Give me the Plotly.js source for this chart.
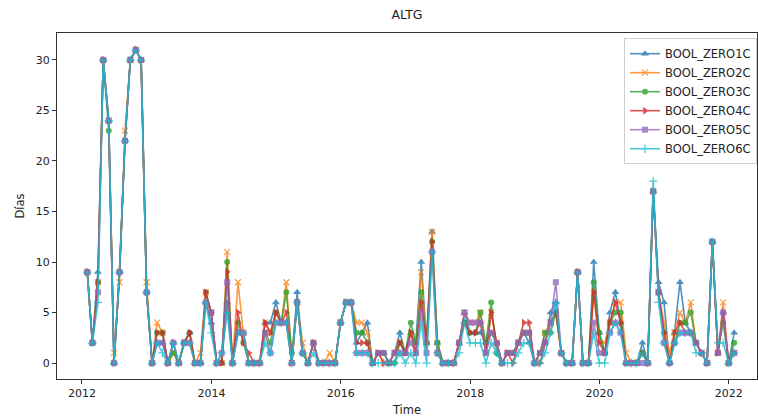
<!DOCTYPE html>
<html>
<head>
<meta charset="utf-8">
<script src="https://cdn.plot.ly/plotly-3.0.1.min.js"></script>
<style>
  html, body { margin: 0; padding: 0; background: #ffffff; }
  #chart { width: 758px; height: 417px; }
</style>
</head>
<body>
<div id="chart"></div>
<script>
// Monthly series (month-end), January 2012 to January 2022
const startYear = 2012;
const startMonth = 1;
const monthCount = 121;

const seriesNames = ['BOOL_ZERO1C', 'BOOL_ZERO2C', 'BOOL_ZERO3C', 'BOOL_ZERO4C', 'BOOL_ZERO5C', 'BOOL_ZERO6C'];

const zero1C = [9,2,9,30,24,0,9,22,30,31,30,7, 0,2,2,0,2,0,2,3,0,0,6,4,
  0,0,6,0,3,3,0,0,0,4,4,6, 4,4,0,7,1,0,2,0,0,0,0,4,
  6,6,2,3,4,0,1,1,0,1,3,1, 3,2,10,2,13,2,0,0,0,2,5,3,
  3,3,2,3,2,0,1,1,2,3,2,0, 1,2,5,6,1,0,0,9,0,0,10,3,
  1,5,7,4,0,0,0,2,0,17,8,6, 0,3,8,4,3,2,1,0,12,1,5,0, 3];

const zero2C = [9,2,8,30,24,1,8,23,30,31,30,8, 0,4,3,0,1,0,2,2,0,1,7,5,
  0,0,11,0,8,3,0,0,0,4,3,5, 4,8,0,6,2,0,2,0,0,1,0,4,
  6,6,4,4,3,0,1,0,0,1,2,1, 3,1,9,2,13,2,0,0,0,2,5,4,
  4,5,1,5,2,0,1,1,2,3,3,0, 1,3,4,5,1,0,0,9,0,0,7,2,
  2,4,6,6,1,0,0,1,0,17,7,4, 1,3,5,4,6,2,1,0,12,1,6,0, 1];

const zero3C = [9,2,8,30,23,0,9,22,30,31,30,7, 0,3,3,0,1,0,2,3,0,0,7,5,
  0,0,10,0,4,2,0,0,0,3,2,5, 4,7,1,6,1,0,2,0,0,0,0,4,
  6,6,3,3,2,0,1,1,0,0,2,1, 4,2,7,2,12,2,0,0,0,2,4,3,
  3,5,2,6,1,0,1,1,2,3,3,0, 1,3,3,5,1,0,0,9,0,0,8,3,
  1,4,5,5,0,0,0,1,0,17,7,3, 0,2,4,4,5,2,1,0,12,1,4,0, 2];

const zero4C = [9,2,8,30,24,0,9,22,30,31,30,7, 0,3,3,0,2,0,2,3,0,0,7,5,
  0,0,9,0,5,2,1,0,0,4,3,5, 4,5,0,6,1,0,2,0,0,0,0,4,
  6,6,2,2,2,0,1,0,0,1,2,1, 3,1,6,2,12,1,0,0,0,2,4,3,
  3,4,1,5,2,0,1,0,2,4,4,0, 0,2,4,5,1,0,0,9,0,0,7,2,
  1,4,6,4,0,0,0,1,0,17,7,3, 0,3,4,3,3,2,1,0,12,1,5,0, 1];

const zero5C = [9,2,7,30,24,0,9,22,30,31,30,7, 0,2,2,0,2,0,2,2,0,0,6,5,
  0,1,8,0,3,3,0,0,0,3,1,4, 4,4,0,6,1,0,2,0,0,0,0,4,
  6,6,1,1,1,0,1,1,0,1,1,1, 2,1,5,1,11,1,0,0,0,2,5,4,
  4,4,1,3,2,0,1,1,2,3,3,0, 1,2,4,8,1,0,0,9,0,0,4,1,
  1,3,4,3,0,0,0,0,0,17,7,2, 0,2,3,3,3,2,1,0,12,1,5,0, 1];

const zero6C = [9,2,6,30,24,0,9,22,30,31,30,7, 0,2,1,0,2,0,2,2,0,0,6,3,
  0,1,5,0,3,3,0,0,0,2,1,4, 4,4,0,6,1,0,1,0,0,0,0,4,
  6,6,1,1,1,0,0,0,0,0,1,0, 1,0,4,0,11,1,0,0,0,1,4,2,
  2,2,0,2,1,0,0,0,1,2,2,0, 0,1,3,6,1,0,0,9,0,0,3,0,
  0,3,4,3,0,0,0,1,0,18,6,2, 0,2,3,3,3,1,1,0,12,2,2,0, 1];

const seriesValues = [zero1C, zero2C, zero3C, zero4C, zero5C, zero6C];

const seriesColors = ['#1f77b4', '#ff7f0e', '#2ca02c', '#d62728', '#9467bd', '#17becf'];
const seriesSymbols = ['triangle-up', 'x-thin', 'circle', 'triangle-right', 'square', 'cross-thin'];
const symbolSizes = [7, 6, 6, 7, 6, 6];

const tickYears = ['2012', '2014', '2016', '2018', '2020', '2022'];

// month-end date strings for the time index
function monthEnds(y0, m0, n) {
  const out = [];
  for (let k = 0; k < n; k++) {
    const m = m0 - 1 + k;
    const y = y0 + Math.floor(m / 12);
    const mm = (m % 12) + 1;
    const last = new Date(Date.UTC(y, mm, 0)).getUTCDate();
    out.push(y + '-' + String(mm).padStart(2, '0') + '-' + String(last).padStart(2, '0'));
  }
  return out;
}
const dates = monthEnds(startYear, startMonth, monthCount);

const font = 'DejaVu Sans, sans-serif';

const traces = seriesNames.map((name, s) => {
  const thin = seriesSymbols[s].indexOf('thin') >= 0;
  return {
    type: 'scatter',
    mode: 'lines+markers',
    name: name,
    x: dates,
    y: seriesValues[s],
    opacity: 0.8,
    line: { color: seriesColors[s], width: 1.6 },
    marker: {
      symbol: seriesSymbols[s],
      size: symbolSizes[s],
      color: seriesColors[s],
      line: thin ? { color: seriesColors[s], width: 1.2 } : { width: 0 }
    }
  };
});

const layout = {
  width: 758,
  height: 417,
  margin: { l: 57, r: 1, t: 33, b: 38 },
  paper_bgcolor: '#ffffff',
  plot_bgcolor: '#ffffff',
  showlegend: true,
  font: { family: font, size: 11, color: '#222222' },
  title: {
    text: 'ALTG',
    x: 0.5, xref: 'paper', xanchor: 'center',
    y: 1, yref: 'container', yanchor: 'top', pad: { t: 10 },
    font: { family: font, size: 12.5, color: '#222222' }
  },
  xaxis: {
    type: 'date',
    range: ['2011-08-13', '2022-06-09'],
    tickvals: tickYears.map(y => y + '-01-01'),
    ticktext: tickYears,
    ticks: 'outside', ticklen: 4, tickwidth: 1, tickcolor: '#333333',
    showline: true, linecolor: '#333333', linewidth: 1, mirror: true,
    showgrid: false, zeroline: false,
    tickfont: { family: font, size: 11, color: '#222222' },
    title: { text: 'Time', standoff: 6, font: { family: font, size: 11.5, color: '#222222' } }
  },
  yaxis: {
    range: [-1.58, 32.67],
    tickvals: [0, 5, 10, 15, 20, 25, 30],
    ticks: 'outside', ticklen: 4, tickwidth: 1, tickcolor: '#333333',
    showline: true, linecolor: '#333333', linewidth: 1, mirror: true,
    showgrid: false, zeroline: false,
    tickfont: { family: font, size: 11, color: '#222222' },
    title: { text: 'Días', standoff: 8, font: { family: font, size: 11.5, color: '#222222' } }
  },
  legend: {
    x: 1, xanchor: 'right', xref: 'paper',
    y: 0.985, yanchor: 'top', yref: 'paper',
    bgcolor: 'rgba(255,255,255,0.85)',
    bordercolor: '#d0d0d0', borderwidth: 1,
    font: { family: font, size: 11.5, color: '#222222' },
    tracegroupgap: 0
  }
};

Plotly.newPlot('chart', traces, layout, { displayModeBar: false, staticPlot: true });
</script>
</body>
</html>
